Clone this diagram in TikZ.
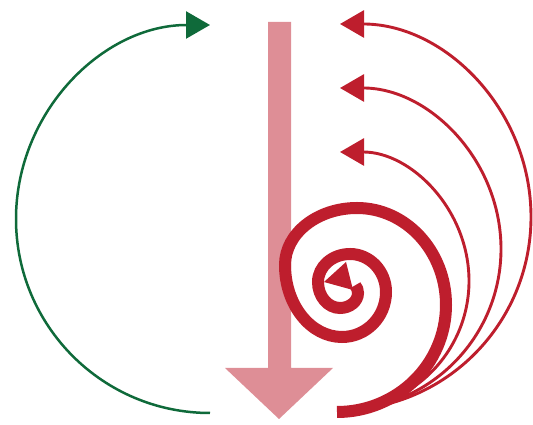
\documentclass[tikz,border=0pt]{standalone}
\usetikzlibrary{arrows.meta}
\definecolor{spiralred}{RGB}{190,30,45}
\definecolor{loopgreen}{RGB}{15,106,58}
\definecolor{flowpink}{RGB}{222,142,150}

\begin{document}
\begin{tikzpicture}[x=1pt,y=1pt,
  thinarc/.style={line width=2.9pt,-{Triangle[length=24pt,width=27pt]}}]
\useasboundingbox (0,0) rectangle (533,425);
% broad downward arrow
\fill[flowpink] (268,403) -- (291,403) -- (291,57) -- (333,57) -- (279,6) -- (225,57) -- (268,57) -- cycle;
% green return loop
\coordinate (loop-start) at (210,12);
\draw[thinarc,loopgreen,line width=2.5pt] (loop-start) arc[start angle=-90,end angle=-270,radius=194];
% thin red arcs
\coordinate (fan-start) at (340,15);
\draw[thinarc,spiralred] (fan-start) arc[start angle=-90,end angle=90,x radius=191,y radius=193];
\draw[thinarc,spiralred] (fan-start) arc[start angle=-90,end angle=90,radius=161];
\draw[thinarc,spiralred] (fan-start) arc[start angle=-90,end angle=90,radius=129];
% thick spiral, one quarter at a time
\coordinate (spiral-start) at (337,13);
\draw[spiralred,line width=12pt] (spiral-start)
  arc[start angle=-90,end angle=0,x radius=109,y radius=107]
  arc[start angle=0,end angle=90,x radius=89,y radius=97]
  arc[start angle=90,end angle=180,x radius=72,y radius=57]
  arc[start angle=180,end angle=270,x radius=57,y radius=72]
  arc[start angle=270,end angle=360,x radius=44,y radius=45]
  arc[start angle=0,end angle=90,x radius=36,y radius=38]
  arc[start angle=90,end angle=180,x radius=32,y radius=28]
  arc[start angle=180,end angle=270,x radius=22,y radius=26]
  arc[start angle=270,end angle=360,x radius=18,y radius=15]
  arc[start angle=0,end angle=40,radius=12];
\coordinate (spiral-tip) at (324,143);
\fill[spiralred] (spiral-tip) -- (346,163) -- (353,135) -- cycle;
\end{tikzpicture}
\end{document}
